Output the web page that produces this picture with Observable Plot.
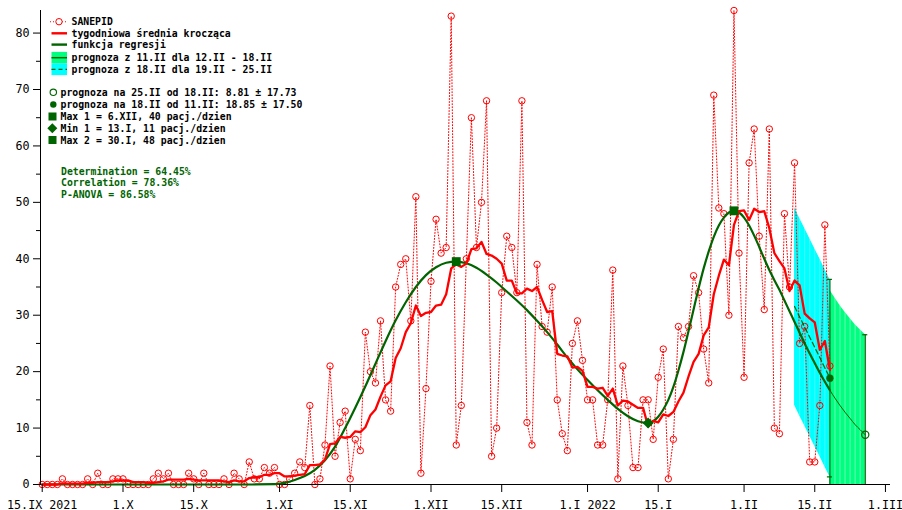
<!DOCTYPE html>
<html><head><meta charset="utf-8">
<script src="https://cdn.jsdelivr.net/npm/d3@7"></script>
<script src="https://cdn.jsdelivr.net/npm/@observablehq/plot@0.6"></script>
<style>
html,body{margin:0;padding:0;background:#fff;}
#chart svg{display:block;}
</style>
</head><body><div id="chart"></div>
<script>
// ---- data (day 0 = 15.IX 2021) ----
const startDate = [2021, 8, 15];
const sanepid = [
  0,0,0,0,1,0,0,0,0,1,
  0,2,0,0,1,1,1,0,0,0,
  0,0,1,2,1,2,0,0,0,2,
  1,0,2,0,0,0,1,0,2,1,
  0,4,1,1,3,2,3,0,0,1,
  2,4,3,14,0,1,7,21,5,11,
  13,1,8,6,27,20,18,29,15,13,
  35,39,40,29,51,2,17,36,47,41,
  42,83,7,14,40,65,42,50,68,5,
  10,34,44,42,34,68,11,7,39,28,
  27,35,15,9,6,25,29,22,15,15,
  7,7,15,38,1,21,14,3,3,15,
  15,8,19,24,1,8,28,26,28,37,
  34,24,18,69,49,48,30,84,41,19,
  57,63,44,31,63,10,9,48,35,57,
  25,28,4,4,14,46,21
];
// regression curve (day offset, value)
const regDays = [0,40,46,48,50,52,54,56,58,60,62,64,66,68,70,72,74,76,78,80,82,84,86,88,90,92,94,96,98,100,102,104,106,108,110,112,114,116,118,120,121,122,123,124,125,126,127,128,129,130,131,132,133,134,135,136,137,138,139,140,141,142,143,144,145,146,147,148,149,150,151,152,153,154,155,156];
const regValues = [0,0,0.05,0.3,0.8,1.5,2.6,4.3,6.7,10.0,13.6,17.4,21.4,25.4,29.1,32.3,35.0,37.1,38.5,39.3,39.5,39.2,38.4,37.2,35.8,34.2,32.6,30.9,29.0,27.0,24.8,22.5,20.4,18.5,16.7,15.0,13.4,12.1,11.2,10.9,11.2,12.0,13.3,15.0,17.3,20.2,23.5,27.2,31.0,34.8,38.3,41.3,43.9,45.9,47.3,48.2,48.5,48.2,47.3,45.9,44.1,42.1,40.0,38.0,36.2,34.5,32.6,30.7,28.8,26.9,25.0,23.2,21.5,19.8,18.2,16.7];
// forecast from 18.II (green band centre = thin regression tail)
const greenDays = [156,157,158,159,160,161,162,163];
const greenCenter = [16.7,15.3,14.0,12.8,11.7,10.6,9.7,8.81];
const greenHalf = 17.73;
// forecast from 11.II (cyan band centre = dashed line)
const cyanDays = [149,150,151,152,153,154,155,156];
const cyanCenter = [31.55,29.7,27.9,26.1,24.3,22.5,20.65,18.85];
const cyanHalf = 17.50;
// extrema markers
const extremaDays = [82,120,137];
const extremaValues = [39.5,10.9,48.5];
const extremaSymbols = ["square","diamond2","square"];
// forecast points
const fcDays = [156,163];
const fcValues = [18.85,8.81];
// axis ticks
const tickDays = [0,16,30,47,61,77,91,108,122,139,153,167];
const tickLabels = ["15.IX 2021","1.X","15.X","1.XI","15.XI","1.XII","15.XII","1.I 2022","15.I","1.II","15.II","1.III"];
const yTicks = [0,10,20,30,40,50,60,70,80];
const yMinorTicks = [5,15,25,35,45,55,65,75];
const legendLabels = ["SANEPID","tygodniowa średnia krocząca","funkcja regresji","prognoza z 11.II dla 12.II - 18.II","prognoza z 18.II dla 19.II - 25.II"];
const legendLabels2 = ["prognoza na 25.II od 18.II: 8.81 ± 17.73","prognoza na 18.II od 11.II: 18.85 ± 17.50","Max 1 = 6.XII, 40 pacj./dzien","Min 1 = 13.I, 11 pacj./dzien","Max 2 = 30.I, 48 pacj./dzien"];
const statLabels = ["Determination = 64.45%","Correlation = 78.36%","P-ANOVA = 86.58%"];

// ---- build ----
const day = (i) => new Date(Date.UTC(startDate[0], startDate[1], startDate[2]) + i * 864e5);
const series = sanepid.map((v, i) => ({date: day(i), value: v}));
const reg = regDays.map((d, i) => ({date: day(d), value: regValues[i]}));
const green = greenDays.map((d, i) => ({date: day(d), c: greenCenter[i]}));
const cyan = cyanDays.map((d, i) => ({date: day(d), c: cyanCenter[i]}));
const extrema = extremaDays.map((d, i) => ({date: day(d), value: extremaValues[i], symbol: extremaSymbols[i]}));
const fc = fcDays.map((d, i) => ({date: day(d), value: fcValues[i]}));
const tickMap = new Map(tickDays.map((d, i) => [+day(d), tickLabels[i]]));
const DG = "#006400";
const x0 = day(-0.34), x1 = day(168);
const halfDay = 0.5 * 864e5;

const chart = Plot.plot({
  width: 902, height: 510,
  marginLeft: 40, marginRight: 12, marginTop: 10, marginBottom: 26,
  style: {fontFamily: "'DejaVu Sans Mono', monospace", fontSize: "11.7px", background: "white", color: "black", overflow: "visible"},
  x: {type: "utc", domain: [x0, x1], axis: null},
  y: {domain: [0, 84], axis: null},
  marks: [
    Plot.areaY(cyan, {x: "date", y1: d => d.c - cyanHalf, y2: d => d.c + cyanHalf, fill: "#00ffff"}),
    Plot.ruleX(cyan.slice(1, -1), {x: "date", y1: d => d.c - cyanHalf, y2: d => d.c + cyanHalf, stroke: "white", strokeOpacity: 0.25}),
    Plot.areaY(green, {x: "date", y1: d => Math.max(0, d.c - greenHalf), y2: d => d.c + greenHalf, fill: "#00ff80"}),
    Plot.ruleX(green.slice(1, -1), {x: "date", y1: d => Math.max(0, d.c - greenHalf), y2: d => d.c + greenHalf, stroke: "white", strokeOpacity: 0.4}),
    // error bars
    Plot.ruleX(fc, {x: "date", y1: 0, y2: (d, i) => d.value + (i === 0 ? cyanHalf : greenHalf), stroke: DG, strokeWidth: 1.2}),
    Plot.ruleY([fc[0].value - cyanHalf, fc[0].value + cyanHalf, fc[1].value + greenHalf], {
      x1: (d, i) => new Date(+(i < 2 ? fc[0].date : fc[1].date) - halfDay),
      x2: (d, i) => new Date(+(i < 2 ? fc[0].date : fc[1].date) + halfDay),
      y: d => d, stroke: DG, strokeWidth: 1.2}),
    // raw data
    Plot.lineY(series, {x: "date", y: "value", stroke: "#ff0000", strokeWidth: 1, strokeDasharray: "1,2"}),
    Plot.dot(series, {x: "date", y: "value", r: 3.2, stroke: "#ff0000", strokeWidth: 1, fill: "none"}),
    // axes lines
    Plot.ruleY([0], {stroke: "black"}),
    Plot.ruleX([x0], {y1: 0, y2: 84, stroke: "black"}),
    // regression
    Plot.lineY(reg, {x: "date", y: "value", stroke: DG, strokeWidth: 2.2, curve: "monotone-x"}),
    Plot.lineY(green, {x: "date", y: "c", stroke: DG, strokeWidth: 1, curve: "monotone-x"}),
    Plot.lineY(cyan, {x: "date", y: "c", stroke: DG, strokeWidth: 1.2, strokeDasharray: "5,3"}),
    // moving average
    Plot.lineY(series, Plot.windowY({k: 7, anchor: "end", reduce: "mean"}, {x: "date", y: "value", stroke: "#ff0000", strokeWidth: 2.3})),
    // markers
    Plot.dot(extrema, {x: "date", y: "value", symbol: "symbol", r: 5, fill: DG, stroke: "none"}),
    Plot.dot(fc.slice(0, 1), {x: "date", y: "value", r: 3.6, fill: DG}),
    Plot.dot(fc.slice(1), {x: "date", y: "value", r: 3.6, stroke: DG, strokeWidth: 1.2, fill: "none"}),
    // axes
    Plot.axisX({ticks: tickDays.map(day), tickFormat: d => tickMap.get(+d), tickSize: 8, tickPadding: 8, fontSize: 11.7, label: null}),
    Plot.axisY({ticks: yTicks, tickSize: 7, tickPadding: 4, fontSize: 11.7, label: null}),
    Plot.axisY({ticks: yMinorTicks, tickSize: 4, tickFormat: () => "", label: null})
  ]
});
document.getElementById("chart").appendChild(chart);

// ---- legend ----
const svg = d3.select(chart);
const g = svg.append("g").attr("font-family", "'DejaVu Sans Mono', monospace").attr("font-size", 9.8).attr("font-weight", "bold").attr("text-anchor", "start");
const rows1 = [21.7, 33.3, 44.6, 57.7, 69.3];
const rows2 = [92.3, 104.5, 116.5, 128.3, 140];
const rows3 = [171, 182.7, 194.3];
legendLabels.forEach((t, i) => g.append("text").attr("x", 71.5).attr("y", rows1[i]).attr("dy", "0.36em").attr("text-anchor", "start").attr("fill", "black").text(t));
legendLabels2.forEach((t, i) => g.append("text").attr("x", 60.5).attr("y", rows2[i]).attr("dy", "0.36em").attr("text-anchor", "start").attr("fill", "black").text(t));
statLabels.forEach((t, i) => g.append("text").attr("x", 61).attr("y", rows3[i]).attr("dy", "0.36em").attr("text-anchor", "start").attr("fill", DG).text(t));
// symbols
g.append("line").attr("x1", 50).attr("x2", 68).attr("y1", rows1[0]).attr("y2", rows1[0]).attr("stroke", "red").attr("stroke-dasharray", "1,2").attr("stroke-width", 1.1);
g.append("circle").attr("cx", 59).attr("cy", rows1[0]).attr("r", 3.2).attr("fill", "white").attr("stroke", "red");
g.append("line").attr("x1", 51.5).attr("x2", 67).attr("y1", rows1[1]).attr("y2", rows1[1]).attr("stroke", "red").attr("stroke-width", 2.4);
g.append("line").attr("x1", 51.5).attr("x2", 67).attr("y1", rows1[2]).attr("y2", rows1[2]).attr("stroke", DG).attr("stroke-width", 2.4);
g.append("rect").attr("x", 51.5).attr("y", rows1[3] - 5.8).attr("width", 15.5).attr("height", 11.6).attr("fill", "#00ff80");
g.append("line").attr("x1", 51.5).attr("x2", 67).attr("y1", rows1[3]).attr("y2", rows1[3]).attr("stroke", DG).attr("stroke-width", 1.5);
g.append("rect").attr("x", 51.5).attr("y", rows1[4] - 5.8).attr("width", 15.5).attr("height", 11.6).attr("fill", "#00ffff");
g.append("line").attr("x1", 51.5).attr("x2", 67).attr("y1", rows1[4]).attr("y2", rows1[4]).attr("stroke", DG).attr("stroke-width", 1.3).attr("stroke-dasharray", "4,3");
g.append("circle").attr("cx", 53.3).attr("cy", rows2[0]).attr("r", 3.2).attr("fill", "none").attr("stroke", DG).attr("stroke-width", 1.1);
g.append("circle").attr("cx", 53.3).attr("cy", rows2[1]).attr("r", 3.2).attr("fill", DG);
g.append("rect").attr("x", 48.5).attr("y", rows2[2] - 4).attr("width", 8).attr("height", 8).attr("fill", DG);
g.append("path").attr("d", `M52.3,${rows2[3] - 5}L57.3,${rows2[3]}L52.3,${rows2[3] + 5}L47.3,${rows2[3]}Z`).attr("fill", DG);
g.append("rect").attr("x", 48.5).attr("y", rows2[4] - 4).attr("width", 8).attr("height", 8).attr("fill", DG);
</script>
</body></html>
